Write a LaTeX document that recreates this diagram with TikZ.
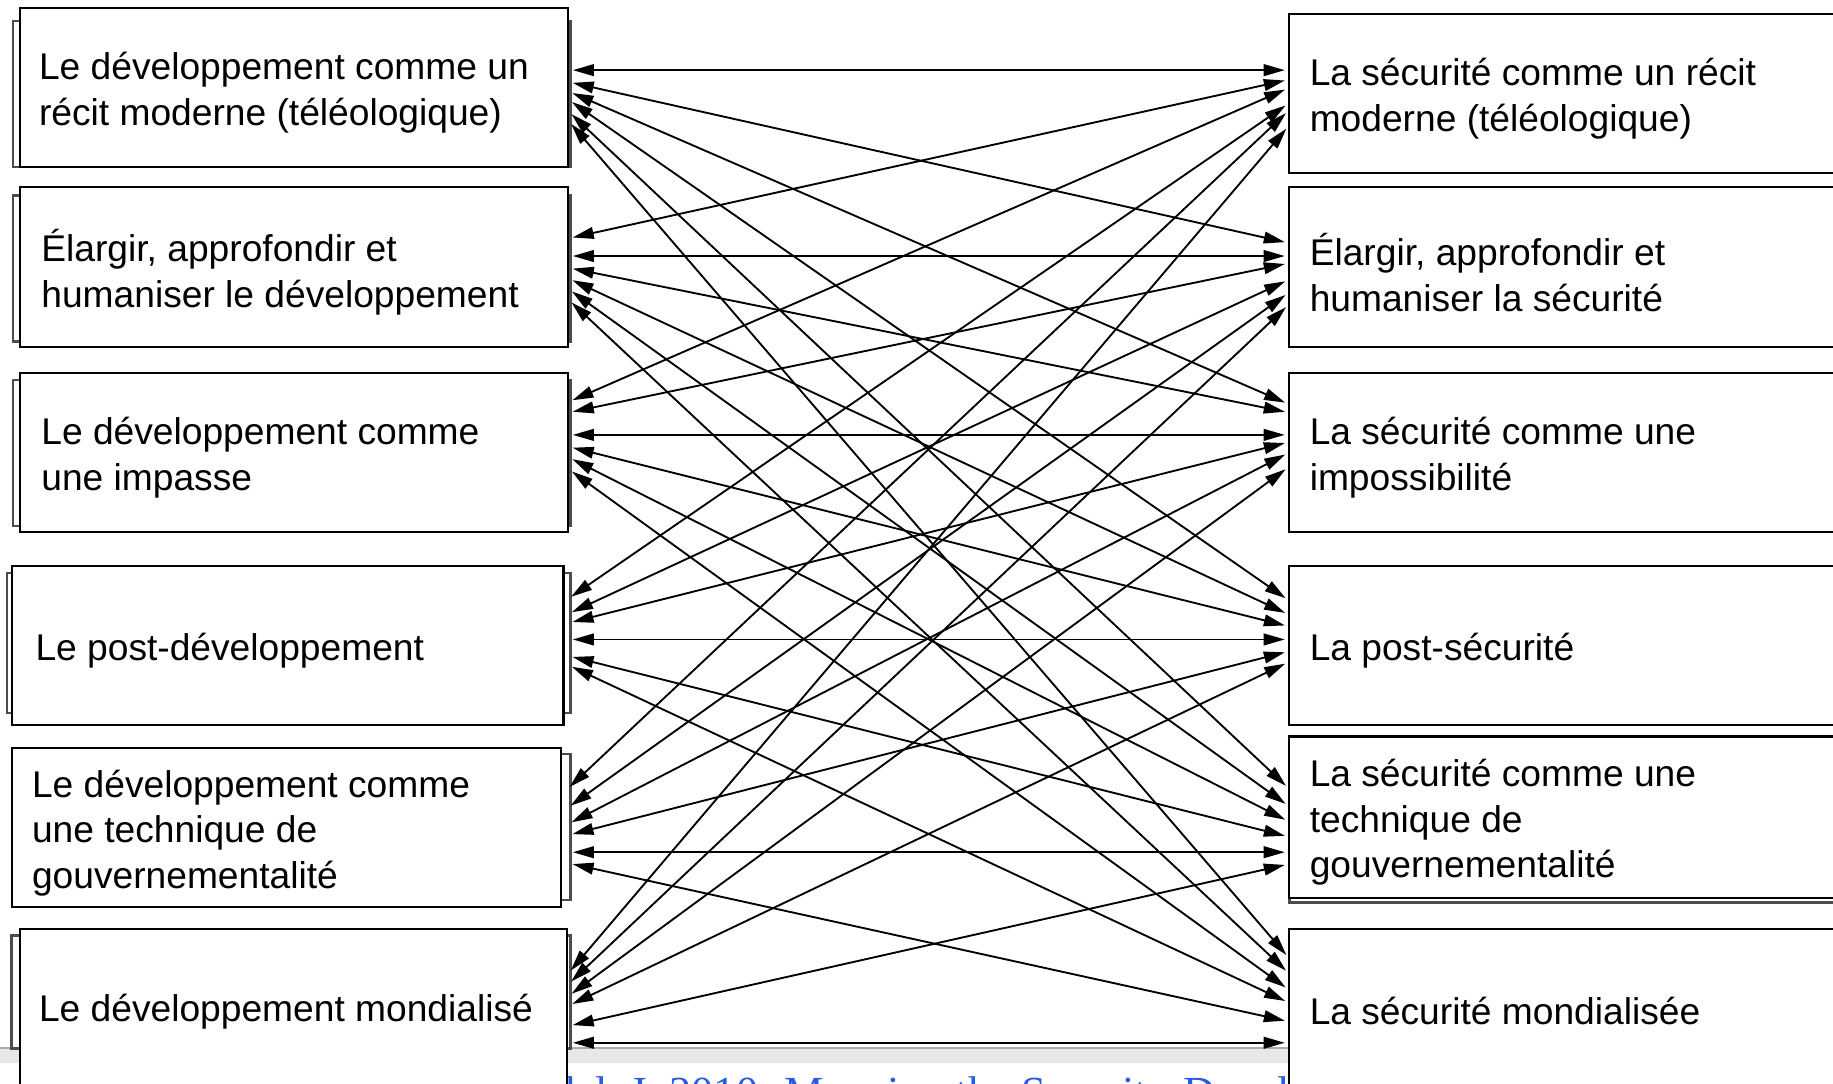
\documentclass[tikz,border=0pt]{standalone}
\usepackage{fontspec}
\setmainfont{Liberation Sans}
\newfontfamily\citefont{Liberation Serif}
\usetikzlibrary{arrows.meta}
\definecolor{citeblue}{RGB}{40,90,230}
\begin{document}
\begin{tikzpicture}[x=0.5pt, y=-0.5pt,
  lbox/.style={draw=black, line width=0.9pt, fill=white, rectangle, anchor=north west,
    outer sep=0pt, inner sep=0pt},
  ltext/.style={anchor=west, inner sep=0pt, align=left, font=\fontsize{15.9}{19.5}\selectfont},
  shadowbox/.style={draw=black!70, line width=1.1pt, fill=white},
  link/.style={line width=0.8pt, {Triangle[length=9pt,width=5pt]}-{Triangle[length=9pt,width=5pt]}}
]
\useasboundingbox (0,0) rectangle (1568,927);
\clip (0,0) rectangle (1568,927);

% bottom grey band and clipped citation
\fill[gray!18] (0,897) rectangle (1568,909);
\draw[gray!65, line width=0.8pt] (0,896.5) -- (1568,896.5);
\node[anchor=base west, inner sep=0pt, font=\citefont\fontsize{19}{22}\selectfont, text=citeblue]
  (cite) at (473,947) {dal, J. 2010. Mapping the Security-Development Nexus};

% shadow edges
\draw[shadowbox] (11,18) rectangle (488,143);
\draw[shadowbox] (11,167) rectangle (488,292);
\draw[shadowbox] (11,325) rectangle (488,450);
\draw[shadowbox] (6,490) rectangle (488,610);
\draw[shadowbox] (14,645) rectangle (488,770);
\draw[shadowbox] (10,800) rectangle (488,897);
\draw[shadowbox] (1103,634) rectangle (1580,772);

% left boxes
\node[lbox, minimum width=234.5pt, minimum height=68pt] (L1) at (17,7) {};
\node[lbox, minimum width=234.5pt, minimum height=68.5pt] (L2) at (17,160) {};
\node[lbox, minimum width=234.5pt, minimum height=68pt] (L3) at (17,319) {};
\node[lbox, minimum width=236pt, minimum height=68pt] (L4) at (10,484) {};
\node[lbox, minimum width=235pt, minimum height=68pt] (L5) at (10,640) {};
\node[lbox, minimum width=234pt, minimum height=70pt] (L6) at (17,795) {};

% right boxes
\node[lbox, minimum width=240pt, minimum height=68pt] (R1) at (1103,12) {};
\node[lbox, minimum width=240pt, minimum height=68.5pt] (R2) at (1103,160) {};
\node[lbox, minimum width=240pt, minimum height=68pt] (R3) at (1103,319) {};
\node[lbox, minimum width=240pt, minimum height=68pt] (R4) at (1103,484) {};
\node[lbox, minimum width=240pt, minimum height=69pt] (R5) at (1103,630) {};
\node[lbox, minimum width=240pt, minimum height=70pt] (R6) at (1103,795) {};

% box texts
\node[ltext] (L1t) at ([xshift=8pt, yshift=-2.2pt]L1.west) {Le développement comme un\\récit moderne (téléologique)};
\node[ltext] (L2t) at ([xshift=9pt, yshift=-2.2pt]L2.west) {Élargir, approfondir et\\humaniser le développement};
\node[ltext] (L3t) at ([xshift=9pt, yshift=-2.2pt]L3.west) {Le développement comme\\une impasse};
\node[ltext] (L4t) at ([xshift=10pt, yshift=-2.2pt]L4.west) {Le post-développement};
\node[ltext] (L5t) at ([xshift=8.5pt, yshift=-2.2pt]L5.west) {Le développement comme\\une technique de\\gouvernementalité};
\node[ltext] (L6t) at ([xshift=8pt]L6.west) {Le développement mondialisé};
\node[ltext] (R1t) at ([xshift=8.5pt, yshift=-2.2pt]R1.west) {La sécurité comme un récit\\moderne (téléologique)};
\node[ltext] (R2t) at ([xshift=8.5pt, yshift=-2.2pt]R2.west) {Élargir, approfondir et\\humaniser la sécurité};
\node[ltext] (R3t) at ([xshift=8.5pt, yshift=-2.2pt]R3.west) {La sécurité comme une\\impossibilité};
\node[ltext] (R4t) at ([xshift=8.5pt, yshift=-2.2pt]R4.west) {La post-sécurité};
\node[ltext] (R5t) at ([xshift=8.5pt, yshift=-2.2pt]R5.west) {La sécurité comme une\\technique de\\gouvernementalité};
\node[ltext] (R6t) at ([xshift=8.5pt]R6.west) {La sécurité mondialisée};

% connectors: left box i <-> right box j
\foreach \i/\j/\a/\b/\s in {
  1/1/60/60/2pt, 1/2/70/208/2pt, 1/3/78/346/2pt, 1/4/85/514/2pt, 1/5/95/675/2pt, 1/6/103/820/2pt,
  2/1/204/68/2pt, 2/2/219/219/2pt, 2/3/229/353/2pt, 2/4/238/526/2pt, 2/5/247/690/2pt, 2/6/256/833/2pt,
  3/1/344/75/2pt, 3/2/353/225/2pt, 3/3/372/372/2pt, 3/4/382/536/2pt, 3/5/391/703/2pt, 3/6/401/847/2pt,
  4/1/515/88/4pt, 4/2/527/239/4pt, 4/3/534/378/4pt, 4/4/547/547/4pt, 4/5/560/716/4pt, 4/6/567/858/4pt,
  5/1/680/94/5pt, 5/2/695/250/5pt, 5/3/708/387/5pt, 5/4/716/557/5pt, 5/5/729/729/5pt, 5/6/737/874/5pt,
  6/1/834/107/2.5pt, 6/2/843/260/2.5pt, 6/3/853/399/2.5pt, 6/4/861/566/2.5pt, 6/5/878/739/2.5pt, 6/6/892/892/2.5pt}
  \draw[link, shorten <=\s, shorten >=2pt] (L\i.east |- 0,\a) -- (R\j.west |- 0,\b);
\end{tikzpicture}
\end{document}
